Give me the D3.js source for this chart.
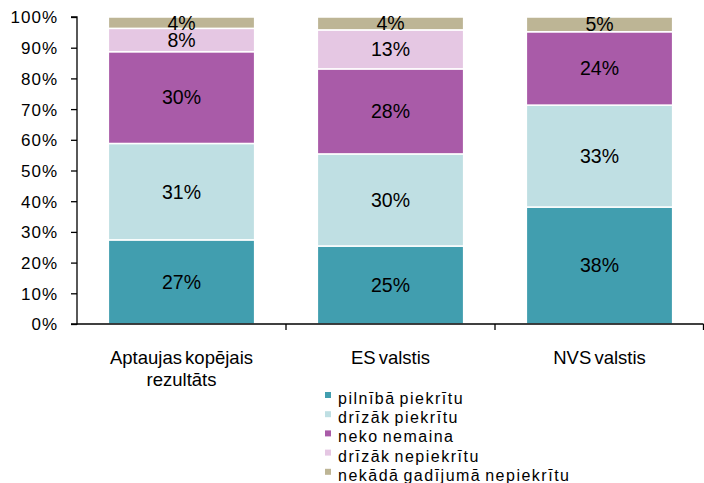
<!DOCTYPE html>
<html>
<head>
<meta charset="utf-8">
<script src="https://cdn.jsdelivr.net/npm/d3@7"></script>
<style>
body { margin: 0; background: #fff; }
text { font-family: "Liberation Sans", Arial, sans-serif; fill: #000; }
</style>
</head>
<body>
<svg id="chart" width="704" height="483"></svg>
<script>
const categories = [["Aptaujas kopējais", "rezultāts"], ["ES valstis"], ["NVS valstis"]];
const seriesNames = ["pilnībā piekrītu", "drīzāk piekrītu", "neko nemaina", "drīzāk nepiekrītu", "nekādā gadījumā nepiekrītu"];
const seriesColors = ["#419EAF", "#BFDFE3", "#A95BA8", "#E5C7E3", "#BDB595"];
const pilniba = [27.4, 25.4, 38.1];
const drizakPiekritu = [31.4, 30.0, 33.2];
const nekoNemaina = [29.9, 27.7, 23.9];
const drizakNepiekritu = [7.6, 12.7, 0];
const nekada = [3.7, 4.2, 4.8];
const yTicks = [0, 10, 20, 30, 40, 50, 60, 70, 80, 90, 100];

const seriesValues = [pilniba, drizakPiekritu, nekoNemaina, drizakNepiekritu, nekada];
const rows = categories.map((c, i) => {
  const r = { key: i };
  seriesNames.forEach((s, j) => r[s] = seriesValues[j][i]);
  return r;
});
const stacked = d3.stack().keys(seriesNames)(rows);

const svg = d3.select("#chart");
const mLeft = 77, mRight = 704, mTop = 17, mBottom = 324;
const x = d3.scaleBand().domain(d3.range(categories.length)).range([mLeft, mRight]).paddingInner(0.3).paddingOuter(0.15);
const y = d3.scaleLinear().domain([0, 100]).range([mBottom, mTop]);

// bars
const g = svg.append("g");
stacked.forEach((layer, j) => {
  g.selectAll(null).data(layer).enter().append("rect")
    .attr("x", (d, i) => x(i))
    .attr("width", x.bandwidth())
    .attr("y", d => y(d[1]))
    .attr("height", d => Math.max(0, y(d[0]) - y(d[1])))
    .attr("fill", seriesColors[j])
    .attr("stroke", "#fff")
    .attr("stroke-width", 1.5);
});
// labels
stacked.forEach((layer, j) => {
  g.selectAll(null).data(layer.filter(d => d[1] - d[0] >= 1)).enter().append("text")
    .attr("x", d => x(d.data.key) + x.bandwidth() / 2)
    .attr("y", d => (y(d[0]) + y(d[1])) / 2)
    .attr("dy", "0.35em")
    .attr("text-anchor", "middle")
    .style("font-size", "19.5px")
    .text(d => Math.round(d[1] - d[0]) + "%");
});

// y axis
const yAxis = d3.axisLeft(y).tickValues(yTicks).tickSize(6).tickFormat(d => d + "%");
const ya = svg.append("g").attr("transform", `translate(${mLeft},0)`).call(yAxis);
ya.select(".domain").attr("stroke", "#000").attr("stroke-width", 1.3).attr("d", `M-6,${mTop}H0V${mBottom}H-6`);
ya.selectAll(".tick line").attr("stroke", "#000").attr("stroke-width", 1.3);
ya.selectAll(".tick text").attr("x", -19).attr("dy", "0.35em")
  .style("font-size", "17px").style("letter-spacing", "1px").style("font-family", "'Liberation Sans', Arial, sans-serif");

// x axis
const xa = svg.append("g");
xa.append("line").attr("x1", mLeft).attr("x2", mRight - 0.5).attr("y1", mBottom).attr("y2", mBottom).attr("stroke", "#000").attr("stroke-width", 1.3);
const bounds = d3.range(categories.length).map(i => x(i) - x.step() * x.paddingInner() / 2).slice(1).concat([mRight - 0.5]);
xa.selectAll(null).data(bounds).enter().append("line")
  .attr("x1", d => d).attr("x2", d => d).attr("y1", mBottom).attr("y2", mBottom + 6)
  .attr("stroke", "#000").attr("stroke-width", 1.3);
categories.forEach((lines, i) => {
  const t = xa.append("text").attr("text-anchor", "middle").style("font-size", "18.5px").style("word-spacing", "-2px");
  lines.forEach((ln, k) => {
    t.append("tspan").attr("x", x(i) + x.bandwidth() / 2).attr("y", 364 + k * 22).text(ln);
  });
});

// legend
const lg = svg.append("g");
seriesNames.forEach((s, j) => {
  const by = 404 + j * 19.2;
  lg.append("rect").attr("x", 325).attr("y", by - 12).attr("width", 6).attr("height", 6).attr("fill", seriesColors[j]);
  lg.append("text").attr("x", 338).attr("y", by).style("font-size", "16px").style("letter-spacing", "1.5px").style("word-spacing", "-2px").text(s);
});
</script>
</body>
</html>
